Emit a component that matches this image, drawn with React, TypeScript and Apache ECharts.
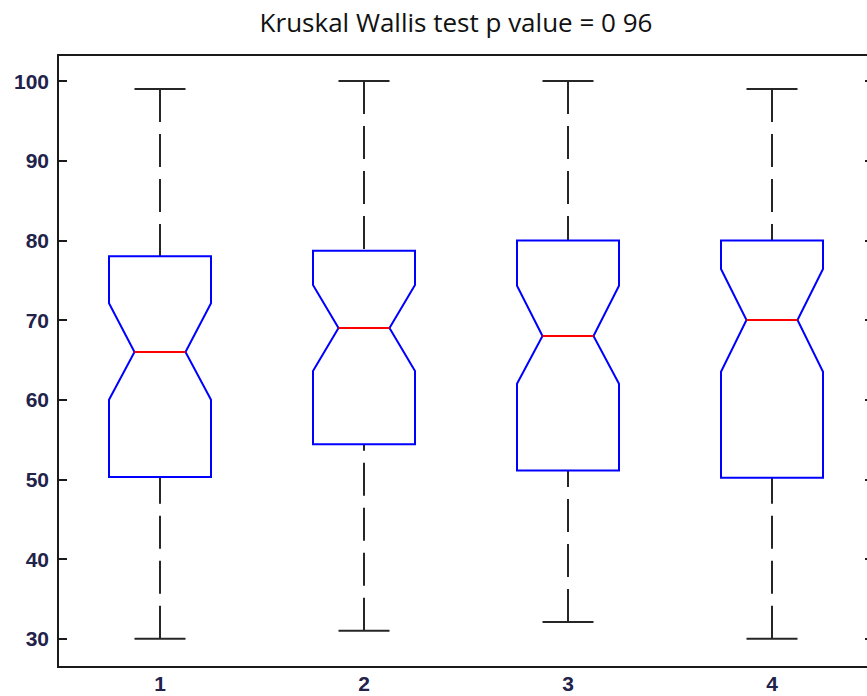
import React, { useEffect, useRef } from "react";
import * as echarts from "echarts";

const categories = ["1", "2", "3", "4"];
const lowerWhisker = [30, 31, 32.1, 30];
const q1 = [50.3, 54.4, 51.1, 50.2];
const notchLow = [60, 63.6, 62, 63.5];
const median = [66, 69, 68, 70];
const notchHigh = [72.1, 74.4, 74.3, 76.4];
const q3 = [78, 78.7, 80, 80];
const upperWhisker = [99, 100, 100, 99];
const yTicks = [30, 40, 50, 60, 70, 80, 90, 100];
const titleText = "Kruskal Wallis test p value = 0 96";

const labelColor = "#22224a";
const axisColor = "#1a1a1a";

export default function App() {
  const ref = useRef<HTMLDivElement>(null);
  useEffect(() => {
    document.body.style.margin = "0";
    const chart = echarts.init(ref.current!, null, { renderer: "svg" });
    const data = categories.map((c, i) => [
      i + 1,
      lowerWhisker[i],
      q1[i],
      notchLow[i],
      median[i],
      notchHigh[i],
      q3[i],
      upperWhisker[i],
    ]);
    const hw = 0.25;
    const nw = 0.125;
    const cw = 0.125;
    const renderItem = (params: any, api: any) => {
      const x = api.value(0);
      const lw = api.value(1);
      const b1 = api.value(2);
      const nl = api.value(3);
      const md = api.value(4);
      const nh = api.value(5);
      const b3 = api.value(6);
      const uw = api.value(7);
      const p = (dx: number, v: number) => api.coord([x + dx, v]);
      const pts = [
        p(-hw, b3), p(hw, b3), p(hw, nh), p(nw, md), p(hw, nl), p(hw, b1),
        p(-hw, b1), p(-hw, nl), p(-nw, md), p(-hw, nh),
      ];
      const wStyle = { stroke: "#262626", lineWidth: 2, lineDash: [33, 12] };
      const cStyle = { stroke: "#262626", lineWidth: 2 };
      const line = (a: number[], b: number[], style: any) => ({
        type: "line",
        shape: { x1: a[0], y1: a[1], x2: b[0], y2: b[1] },
        style,
      });
      return {
        type: "group",
        children: [
          line(p(0, uw), p(0, b3), wStyle),
          line(p(0, lw), p(0, b1), wStyle),
          line(p(-cw, uw), p(cw, uw), cStyle),
          line(p(-cw, lw), p(cw, lw), cStyle),
          {
            type: "polygon",
            shape: { points: pts },
            style: { fill: "none", stroke: "#0000ff", lineWidth: 2 },
          },
          line(p(-nw, md), p(nw, md), { stroke: "#ff0000", lineWidth: 2 }),
        ],
      };
    };
    chart.setOption({
      animation: false,
      backgroundColor: "#ffffff",
      graphic: [
        {
          type: "text",
          x: 456,
          y: 22,
          style: {
            text: titleText,
            fill: "#111111",
            font: '26px "Open Sans"',
            align: "center",
            verticalAlign: "middle",
          },
        },
      ],
      grid: {
        left: 58,
        top: 55,
        width: 816,
        height: 612,
        outerBoundsMode: "none",
        containLabel: false,
        show: true,
        borderColor: axisColor,
        borderWidth: 2,
        backgroundColor: "transparent",
      },
      xAxis: {
        type: "value",
        min: 0.5,
        max: 4.5,
        axisLine: { show: false },
        splitLine: { show: false },
        axisTick: { show: false },
        axisLabel: {
          customValues: [1, 2, 3, 4],
          formatter: (v: number) => categories[Math.round(v) - 1] ?? "",
          margin: 6,
          color: labelColor,
          fontSize: 21,
          fontWeight: "bold",
          fontFamily: "Liberation Sans",
        },
      },
      yAxis: [
        {
          type: "value",
          min: 26.45,
          max: 103.27,
          axisLine: { show: false },
          splitLine: { show: false },
          axisTick: {
            show: true,
            inside: true,
            length: 9,
            customValues: yTicks,
            lineStyle: { color: axisColor, width: 2 },
          },
          axisLabel: {
            customValues: yTicks,
            margin: 9,
            color: labelColor,
            fontSize: 21,
            fontWeight: "bold",
            fontFamily: "Liberation Sans",
          },
        },
        {
          type: "value",
          position: "right",
          min: 26.45,
          max: 103.27,
          axisLine: { show: false },
          splitLine: { show: false },
          axisTick: {
            show: true,
            inside: true,
            length: 9,
            customValues: yTicks,
            lineStyle: { color: axisColor, width: 2 },
          },
          axisLabel: { show: false },
        },
      ],
      series: [
        {
          type: "custom",
          renderItem,
          data,
          encode: { x: 0, y: [1, 2, 3, 4, 5, 6, 7] },
          clip: false,
        },
      ],
    });
    return () => chart.dispose();
  }, []);
  return <div ref={ref} style={{ width: 867, height: 696 }} />;
}
